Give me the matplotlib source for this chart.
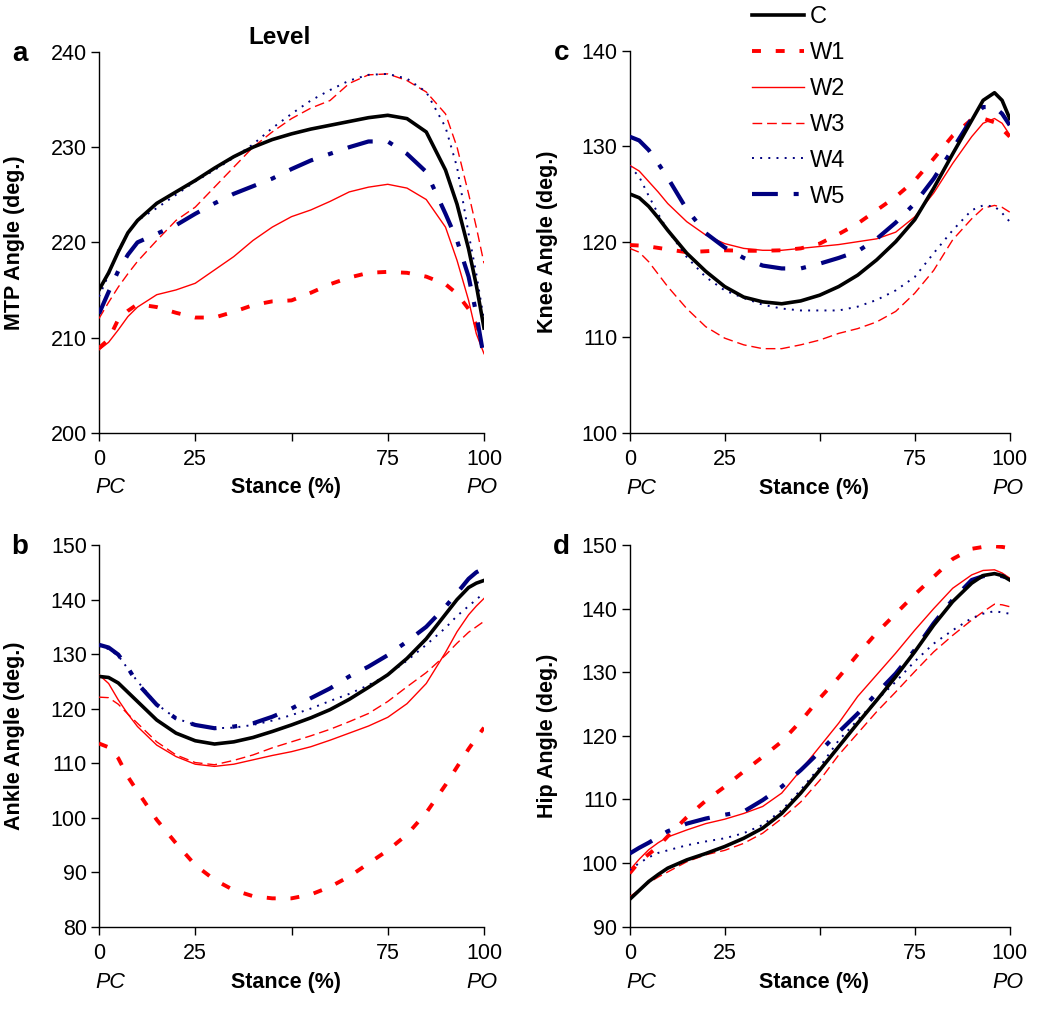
import matplotlib.pyplot as plt

plt.rcParams['font.family'] = ['Liberation Sans', 'DejaVu Sans']

# stance phase (%) where the curves were read
stance = [0, 2.5, 5, 7.5, 10, 15, 20, 25, 30, 35, 40, 45, 50, 55, 60, 65,
          70, 75, 80, 85, 90, 93, 96, 98, 100]

groups = ['C', 'W1', 'W2', 'W3', 'W4', 'W5']

# --- MTP angle (a) ---
mtp_c = [215.0, 216.8, 219.0, 221.0, 222.3, 224.1, 225.3, 226.5, 227.8, 229.0, 230.0, 230.8, 231.4,
         231.9, 232.3, 232.7, 233.1, 233.35, 233.0, 231.6, 227.6, 224.0, 219.3, 215.5, 211.0]
mtp_w1 = [208.9, 209.8, 211.9, 212.8, 213.5, 213.2, 212.6, 212.1, 212.1, 212.7, 213.4, 213.8, 213.9,
          214.7, 215.6, 216.3, 216.8, 216.9, 216.8, 216.4, 215.6, 214.6, 213.0, 211.3, 209.5]
mtp_w2 = [208.7, 209.5, 210.8, 212.2, 213.2, 214.5, 215.0, 215.7, 217.1, 218.5, 220.2, 221.6, 222.7,
          223.4, 224.3, 225.3, 225.8, 226.1, 225.7, 224.5, 221.6, 218.1, 213.9, 210.4, 208.3]
mtp_w3 = [212.0, 213.7, 215.3, 216.7, 218.0, 220.2, 222.3, 223.7, 225.8, 227.9, 230.0, 231.6, 233.0,
          234.1, 234.9, 236.7, 237.6, 237.7, 237.0, 235.8, 233.5, 230.0, 225.1, 221.6, 217.8]
mtp_w4 = [214.3, 216.6, 219.2, 221.0, 222.3, 223.6, 225.0, 226.4, 227.6, 228.9, 230.3, 232.0, 233.5,
          234.9, 236.0, 237.0, 237.6, 237.7, 237.2, 235.8, 232.1, 227.9, 220.9, 216.7, 211.8]
mtp_w5 = [212.5, 214.8, 217.0, 218.7, 220.0, 220.9, 221.8, 223.0, 224.1, 225.1, 225.9, 226.7, 227.7,
          228.6, 229.3, 230.0, 230.6, 230.6, 229.3, 227.4, 223.0, 220.2, 216.4, 212.5, 207.8]

# --- Ankle angle (b) ---
ankle_c = [125.9, 125.7, 124.7, 123.0, 121.3, 117.9, 115.5, 114.1, 113.5, 113.9, 114.7, 115.8, 117.0,
           118.3, 119.8, 121.7, 123.9, 126.2, 129.2, 132.8, 137.3, 140.0, 142.2, 143.0, 143.5]
ankle_w1 = [113.6, 112.9, 110.9, 107.5, 104.8, 99.6, 95.3, 91.3, 88.6, 86.7, 85.6, 85.2, 85.2,
            85.9, 87.3, 89.2, 91.6, 94.0, 96.9, 100.9, 106.0, 109.3, 112.6, 114.6, 116.5]
ankle_w2 = [126.2, 124.6, 121.6, 119.0, 116.7, 113.3, 111.2, 109.8, 109.4, 109.8, 110.6, 111.4, 112.1,
            113.0, 114.2, 115.5, 116.8, 118.4, 120.9, 124.6, 130.3, 134.1, 137.2, 138.8, 140.2]
ankle_w3 = [122.1, 122.0, 120.8, 119.0, 117.3, 113.9, 111.5, 110.1, 109.7, 110.5, 111.5, 112.8, 113.9,
            115.0, 116.2, 117.6, 119.1, 121.3, 124.0, 126.6, 129.8, 132.0, 134.0, 135.0, 136.0]
ankle_w4 = [131.5, 130.9, 129.7, 127.3, 125.0, 120.8, 118.2, 117.0, 116.4, 116.5, 117.0, 117.8, 118.8,
            120.0, 121.4, 122.7, 124.3, 126.2, 128.8, 131.7, 134.8, 137.0, 138.8, 140.0, 141.2]
ankle_w5 = [131.7, 131.2, 129.9, 127.5, 124.6, 120.7, 118.2, 117.0, 116.4, 116.7, 117.3, 118.5, 120.0,
            121.9, 123.7, 125.9, 127.7, 129.8, 132.3, 135.0, 138.7, 141.2, 143.8, 145.0, 145.7]

# --- Knee angle (c) ---
knee_c = [125.0, 124.6, 123.7, 122.5, 121.2, 118.8, 116.9, 115.3, 114.2, 113.7, 113.5, 113.8, 114.4,
          115.3, 116.5, 118.1, 120.0, 122.3, 125.6, 129.2, 132.7, 134.8, 135.6, 134.8, 132.9]
knee_w1 = [119.65, 119.6, 119.5, 119.35, 119.2, 118.9, 119.0, 119.1, 119.05, 119.05, 119.1, 119.3, 119.8,
           120.8, 121.9, 123.3, 124.7, 126.4, 128.7, 131.1, 132.8, 132.9, 132.5, 131.8, 131.0]
knee_w2 = [128.0, 127.4, 126.3, 125.2, 124.0, 122.1, 120.7, 119.8, 119.3, 119.1, 119.1, 119.3, 119.5,
           119.7, 120.0, 120.3, 121.0, 122.6, 125.1, 128.2, 131.0, 132.4, 132.9, 132.4, 131.2]
knee_w3 = [119.3, 118.9, 117.9, 116.6, 115.3, 113.0, 111.1, 109.9, 109.2, 108.8, 108.8, 109.2, 109.7,
           110.4, 110.9, 111.6, 112.7, 114.6, 117.0, 120.2, 122.4, 123.5, 123.8, 123.6, 123.1]
knee_w4 = [127.9, 126.8, 124.8, 122.9, 121.2, 118.4, 116.3, 114.9, 114.1, 113.4, 113.0, 112.8, 112.8,
           112.8, 113.2, 113.9, 114.9, 116.3, 118.8, 121.2, 123.3, 123.8, 123.7, 123.0, 122.1]
knee_w5 = [131.0, 130.6, 129.6, 128.2, 126.7, 123.4, 120.9, 119.4, 118.3, 117.5, 117.2, 117.2, 117.7,
           118.3, 119.0, 120.3, 122.0, 124.0, 126.6, 129.7, 132.9, 134.1, 134.1, 133.4, 132.2]

# --- Hip angle (d) ---
hip_c = [94.3, 95.7, 97.1, 98.2, 99.2, 100.5, 101.5, 102.6, 103.9, 105.5, 107.8, 111.0, 114.6,
         118.3, 122.0, 125.6, 129.3, 133.2, 137.4, 141.1, 144.0, 145.2, 145.5, 145.2, 144.5]
hip_w1 = [98.4, 100.2, 101.4, 102.6, 104.2, 107.2, 109.8, 112.0, 114.4, 116.7, 119.1, 122.3, 125.9,
          129.2, 132.8, 136.2, 139.2, 142.2, 145.0, 147.8, 149.4, 149.7, 149.8, 149.7, 149.5]
hip_w2 = [98.9, 100.6, 102.1, 103.2, 104.1, 105.2, 106.2, 106.9, 107.8, 108.9, 111.0, 114.6, 118.3,
          122.0, 126.2, 129.6, 133.0, 136.6, 140.0, 143.2, 145.3, 146.0, 146.1, 145.6, 144.8]
hip_w3 = [94.7, 95.8, 96.9, 97.8, 98.6, 100.2, 101.3, 102.0, 103.1, 104.7, 107.0, 109.6, 113.0,
          117.0, 120.4, 123.8, 126.9, 130.1, 133.2, 135.8, 138.2, 139.5, 140.7, 140.6, 140.3]
hip_w4 = [98.9, 100.0, 100.9, 101.6, 102.0, 102.8, 103.4, 103.9, 104.7, 106.0, 108.3, 111.5, 115.1,
          119.3, 122.5, 125.6, 128.5, 131.7, 134.5, 136.6, 138.5, 139.2, 139.6, 139.4, 139.2]
hip_w5 = [101.5, 102.4, 103.2, 104.1, 105.0, 106.2, 107.0, 107.6, 108.1, 109.9, 112.0, 114.6, 117.5,
          120.6, 123.5, 126.7, 129.8, 133.5, 137.7, 141.4, 144.5, 145.1, 145.3, 145.1, 144.8]

RED = '#ff0000'
NAVY = '#000080'
styles = {
    'C': dict(color='black', lw=2.6, ls='-', zorder=6),
    'W1': dict(color=RED, lw=2.8, dashes=(2.3, 3.8), zorder=3),
    'W2': dict(color=RED, lw=1.0, ls='-', zorder=4),
    'W3': dict(color=RED, lw=1.0, dashes=(7, 3.5), zorder=4),
    'W4': dict(color=NAVY, lw=1.4, dashes=(1, 3.2), zorder=4),
    'W5': dict(color=NAVY, lw=3.0, dashes=(6.2, 3.8, 1.2, 3.8), zorder=5),
}

FS = 15.5
fig = plt.figure(figsize=(10.5, 10.1), dpi=100)

W, H = 1050.0, 1010.0


def make_axes(x0, x1, y_top, y_bot):
    return fig.add_axes([x0 / W, 1 - y_bot / H, (x1 - x0) / W, (y_bot - y_top) / H])


def draw_panel(ax, curves, ylim, step, ylabel, letter, label_dx):
    for name, vals in zip(groups, curves):
        ax.plot(stance, vals, label=name, **styles[name])
    ax.set_xlim(0, 100)
    ax.set_ylim(*ylim)
    ax.set_yticks(range(ylim[0], ylim[1] + 1, step))
    ax.set_xticks([0, 25, 50, 75, 100])
    ax.set_xticklabels(['0', '25', '', '75', '100'])
    for s in ['top', 'right']:
        ax.spines[s].set_visible(False)
    for s in ['left', 'bottom']:
        ax.spines[s].set_linewidth(1.0)
    ax.tick_params(direction='out', length=5.8, width=1.0, labelsize=FS, pad=3)
    ax.tick_params(axis='x', pad=6)
    ax.set_ylabel(ylabel, fontsize=FS, fontweight='bold')
    ax.yaxis.set_label_coords(label_dx, 0.5)
    tr = ax.get_xaxis_transform()
    ax.text(48.5, -0.145, 'Stance (%)', transform=tr, ha='center', va='center',
            fontsize=FS, fontweight='bold')
    ax.text(3, -0.145, 'PC', transform=tr, ha='center', va='center',
            fontsize=FS, style='italic')
    ax.text(99.5, -0.145, 'PO', transform=tr, ha='center', va='center',
            fontsize=FS, style='italic')
    ax.text(-0.205 if label_dx < -0.19 else -0.18, 0.995, letter, transform=ax.transAxes,
            ha='center', va='center', fontsize=20, fontweight='bold')


ax_a = make_axes(99, 484, 52, 432.7)
ax_c = make_axes(629.7, 1009.7, 50.7, 432.7)
ax_b = make_axes(99, 484, 545, 926.7)
ax_d = make_axes(629.7, 1009.7, 545, 926.7)

draw_panel(ax_a, [mtp_c, mtp_w1, mtp_w2, mtp_w3, mtp_w4, mtp_w5], (200, 240), 10,
           'MTP Angle (deg.)', 'a', -0.192)
draw_panel(ax_b, [ankle_c, ankle_w1, ankle_w2, ankle_w3, ankle_w4, ankle_w5], (80, 150), 10,
           'Ankle Angle (deg.)', 'b', -0.192)
draw_panel(ax_c, [knee_c, knee_w1, knee_w2, knee_w3, knee_w4, knee_w5], (100, 140), 10,
           'Knee Angle (deg.)', 'c', -0.19)
draw_panel(ax_d, [hip_c, hip_w1, hip_w2, hip_w3, hip_w4, hip_w5], (90, 150), 10,
           'Hip Angle (deg.)', 'd', -0.19)

ax_a.set_title('Level', fontsize=17.5, fontweight='bold', pad=6, x=0.47)

handles, labels = ax_c.get_legend_handles_labels()
fig.legend(handles, labels, loc='upper left', bbox_to_anchor=(752 / W, 1 - 6 / H),
           frameon=False, fontsize=17, handlelength=2.2, handletextpad=0.25,
           labelspacing=0.59, borderpad=0, borderaxespad=0)

fig.savefig('out.png', dpi=100)
